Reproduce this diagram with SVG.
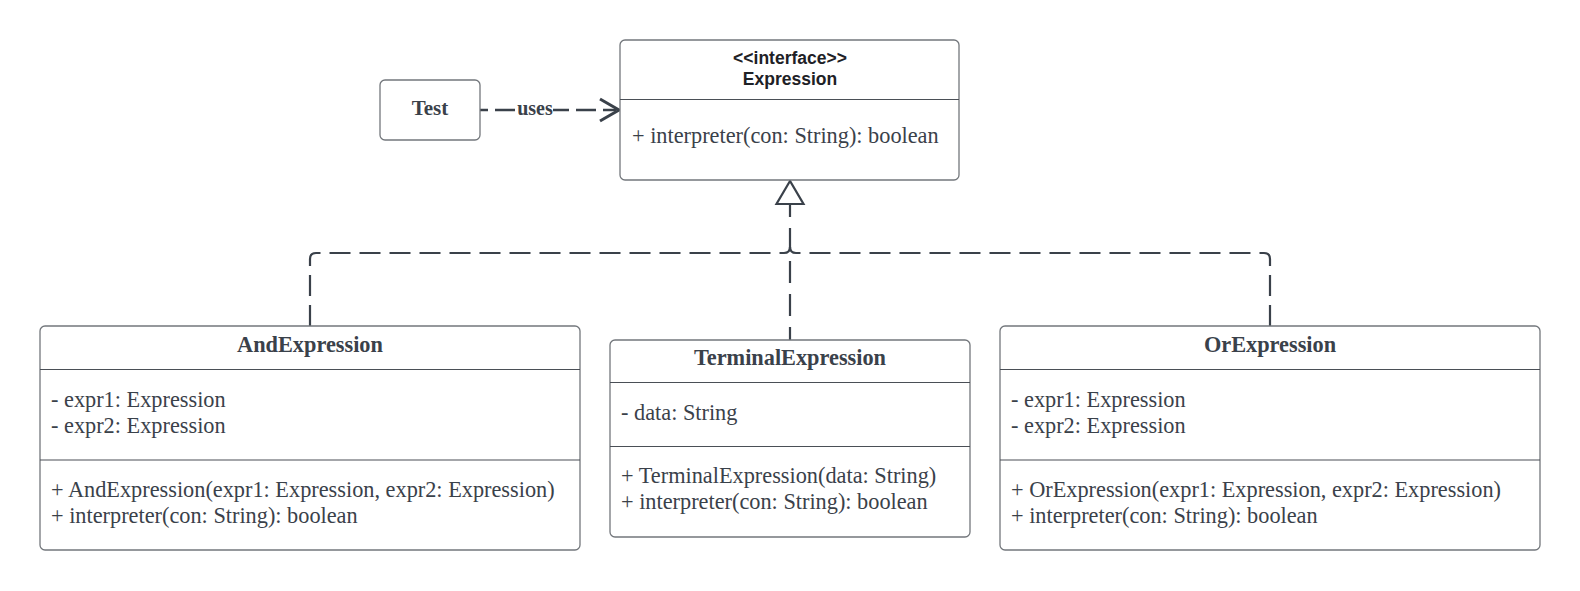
<svg xmlns="http://www.w3.org/2000/svg" width="1580" height="591" viewBox="0 0 1580 591">
<defs>
<style>
.box{fill:#ffffff;stroke:#73777c;stroke-width:1.3}
.div{stroke:#4a4f56;stroke-width:1.2}
.t{font-family:"Liberation Serif","Times New Roman",serif;font-size:22.3px;fill:#3a414a}
.tb{font-family:"Liberation Serif","Times New Roman",serif;font-size:22.3px;font-weight:bold;fill:#3a414a}
.sb{font-family:"Liberation Sans",Arial,sans-serif;font-size:17.5px;font-weight:bold;fill:#1e2126}
.c{fill:none;stroke:#3a414a;stroke-width:2.2}
.dash{stroke-dasharray:21 9}
</style>
</defs>
<g id="connectors">
<path class="c" d="M480,110 H616" style="stroke-dasharray:20 7;stroke-dashoffset:12;stroke-width:2.7"/>
<rect x="517" y="100" width="36" height="20" fill="#ffffff"/>
<text class="tb" x="535" y="114.5" text-anchor="middle" style="font-size:20px">uses</text>
<polyline class="c" points="600,99 619,110 600,121" stroke-linejoin="miter" style="stroke-width:3"/>
<path class="c dash" d="M310,326 V259 Q310,253 316,253 H784 Q790,253 790,247"/>
<path class="c dash" d="M1270,326 V259 Q1270,253 1264,253 H796 Q790,253 790,247"/>
<path class="c" d="M790,340 V204" style="stroke-dasharray:22 11;stroke-dashoffset:9"/>
<polygon points="790,181 776.5,204 803.5,204" fill="#ffffff" stroke="#3a414a" stroke-width="2.2" stroke-linejoin="miter"/>
</g>
<g id="test">
<rect class="box" x="380" y="80" width="100" height="60" rx="5"/>
<text class="tb" x="430" y="115" text-anchor="middle" style="font-size:21px">Test</text>
</g>
<g id="expression">
<rect class="box" x="620" y="40" width="339" height="140" rx="5"/>
<line class="div" x1="620" y1="99.5" x2="959" y2="99.5"/>
<text class="sb" x="790" y="64" text-anchor="middle">&lt;&lt;interface&gt;&gt;</text>
<text class="sb" x="790" y="84.5" text-anchor="middle">Expression</text>
<text class="t" x="632" y="143">+ interpreter(con: String): boolean</text>
</g>
<g id="andExpression">
<rect class="box" x="40" y="326" width="540" height="224" rx="5"/>
<line class="div" x1="40" y1="369.5" x2="580" y2="369.5"/>
<line class="div" x1="40" y1="460" x2="580" y2="460"/>
<text class="tb" x="310" y="352" text-anchor="middle">AndExpression</text>
<text class="t" x="51" y="407">- expr1: Expression</text>
<text class="t" x="51" y="433">- expr2: Expression</text>
<text class="t" x="51" y="497">+ AndExpression(expr1: Expression, expr2: Expression)</text>
<text class="t" x="51" y="523">+ interpreter(con: String): boolean</text>
</g>
<g id="terminalExpression">
<rect class="box" x="610" y="340" width="360" height="197" rx="5"/>
<line class="div" x1="610" y1="382.5" x2="970" y2="382.5"/>
<line class="div" x1="610" y1="446.5" x2="970" y2="446.5"/>
<text class="tb" x="790" y="365" text-anchor="middle">TerminalExpression</text>
<text class="t" x="621" y="420">- data: String</text>
<text class="t" x="621" y="483">+ TerminalExpression(data: String)</text>
<text class="t" x="621" y="509">+ interpreter(con: String): boolean</text>
</g>
<g id="orExpression">
<rect class="box" x="1000" y="326" width="540" height="224" rx="5"/>
<line class="div" x1="1000" y1="369.5" x2="1540" y2="369.5"/>
<line class="div" x1="1000" y1="460" x2="1540" y2="460"/>
<text class="tb" x="1270" y="352" text-anchor="middle">OrExpression</text>
<text class="t" x="1011" y="407">- expr1: Expression</text>
<text class="t" x="1011" y="433">- expr2: Expression</text>
<text class="t" x="1011" y="497">+ OrExpression(expr1: Expression, expr2: Expression)</text>
<text class="t" x="1011" y="523">+ interpreter(con: String): boolean</text>
</g>
</svg>
